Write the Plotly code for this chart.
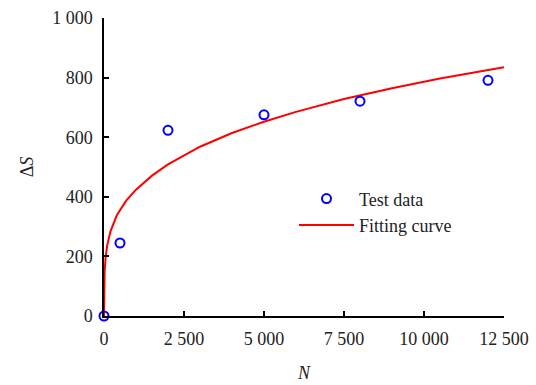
import plotly.graph_objects as go

# Test data
test_N = [0, 500, 2000, 5000, 8000, 12000]
test_dS = [0, 245, 623, 675, 721, 791]

# Fitting curve
fit_N = [0, 5, 20, 50, 100, 200, 400, 700, 1000, 1500, 2000, 3000, 4000,
         5000, 6000, 7500, 9000, 10500, 12500]
fit_dS = [0, 101, 150, 195, 237, 283, 338, 388, 424, 471, 509, 568, 614,
          652, 685, 728, 764, 797, 835]

x_ticks = [0, 2500, 5000, 7500, 10000, 12500]
x_labels = ["0", "2 500", "5 000", "7 500", "10 000", "12 500"]
y_ticks = [0, 200, 400, 600, 800, 1000]
y_labels = ["0", "200", "400", "600", "800", "1 000"]

FONT = "Liberation Serif, Times New Roman, serif"

fig = go.Figure()
fig.add_trace(go.Scatter(
    x=fit_N, y=fit_dS, mode="lines", name="Fitting curve",
    line=dict(color="#ff0000", width=2), legendrank=2, cliponaxis=False))
fig.add_trace(go.Scatter(
    x=test_N, y=test_dS, mode="markers", name="Test data",
    marker=dict(symbol="circle-open", size=9, color="#0000ff",
                line=dict(width=2, color="#0000ff")),
    legendrank=1, cliponaxis=False))

axis_common = dict(
    showline=True, linecolor="black", linewidth=1.5,
    ticks="inside", ticklen=5, tickwidth=1.5, tickcolor="black",
    showgrid=False, zeroline=False, mirror=False, automargin=False,
    tickfont=dict(family=FONT, size=18, color="#222"),
)

fig.update_xaxes(range=[0, 12500], tickvals=x_ticks, ticktext=x_labels,
                 ticklabelstandoff=6,
                 title=dict(text="<i>N</i>", font=dict(family=FONT, size=18, color="#222"),
                            standoff=18),
                 **axis_common)
fig.update_yaxes(range=[0, 1000], tickvals=y_ticks, ticktext=y_labels,
                 ticklabelstandoff=6,
                 title=dict(text="Δ<i>S</i>", font=dict(family=FONT, size=18, color="#222"),
                            standoff=14),
                 **axis_common)

fig.update_layout(
    width=536, height=385,
    margin=dict(l=104, r=32, t=18, b=69),
    plot_bgcolor="white", paper_bgcolor="white",
    showlegend=True,
    legend=dict(x=0.475, y=0.455, xanchor="left", yanchor="top",
                font=dict(family=FONT, size=18, color="#222"),
                bgcolor="rgba(0,0,0,0)", itemwidth=55, tracegroupgap=0),
)

fig.write_html("out.html")
